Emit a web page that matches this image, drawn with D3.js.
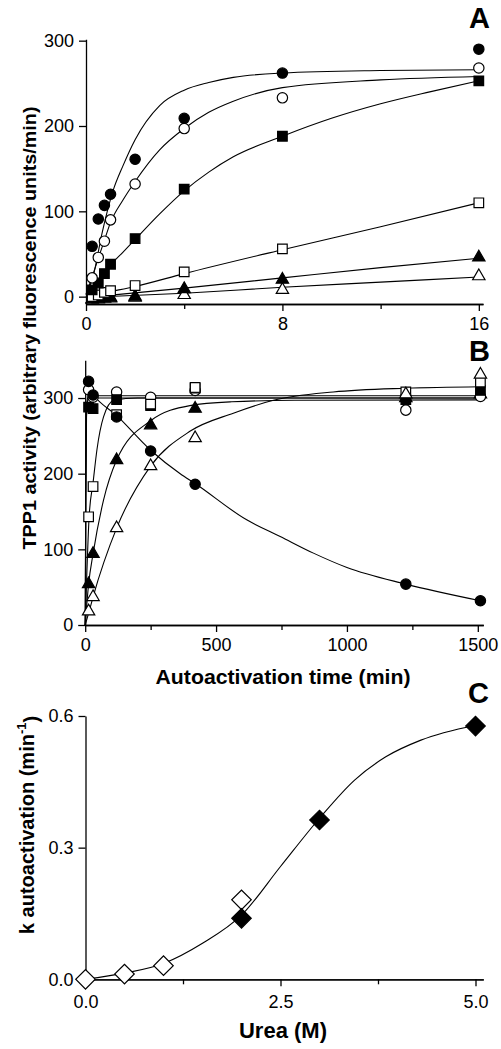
<!DOCTYPE html>
<html>
<head>
<meta charset="utf-8">
<script src="https://cdn.jsdelivr.net/npm/d3@7"></script>
<style>
  body { margin: 0; background: #fff; }
</style>
</head>
<body>
<div class="chart"></div>
<script>
// ---- panel A: activity vs time (min) ----
var aTime = [0.25, 0.5, 0.75, 1, 2, 4, 8, 16];
var aFilledCircle = [59, 91, 107, 120, 161, 209, 262, 290];
var aOpenCircle = [22, 46, 65, 90, 132, 197, 233, 268];
var aFilledSquare = [8, 16, 27, 38, 68, 126, 188, 253];
var aOpenSquare = [0, 2, 5, 7, 13, 29, 56, 110];
var aFilledTriangle = [-3, -2, -2, -1, 0, 9, 20, 46];
var aOpenTriangle = [-3, -3, -2, -2, -1, 2, 8, 24];

// fitted curves
var aFitFilledCircleX = [0, 0.3, 0.65, 1.1, 1.5, 2, 3, 4, 5, 6, 8, 12, 16];
var aFitFilledCircleY = [2, 25, 74, 124, 153, 184, 224, 242, 251, 257, 262, 265, 266];
var aFitOpenCircleX = [0, 0.25, 0.5, 0.75, 1, 1.5, 2, 3, 4, 5, 6, 8, 12, 16];
var aFitOpenCircleY = [3, 23, 45, 66, 87, 113, 135, 172, 197, 216, 229, 245, 254, 258];
var aFitFilledSquareX = [0, 0.25, 0.5, 0.75, 1, 1.5, 2, 3, 4, 5, 6, 8, 10, 12, 14, 16];
var aFitFilledSquareY = [0, 7, 16, 27, 37, 52, 67, 97, 124, 146, 164, 188, 209, 226, 240, 253];
var aFitOpenSquareX = [0, 1, 2, 4, 8, 12, 16];
var aFitOpenSquareY = [0, 6, 12, 27, 55, 82, 110];
var aFitFilledTriangleX = [0, 4, 8, 12, 16];
var aFitFilledTriangleY = [-1, 10, 22, 34, 45];
var aFitOpenTriangleX = [0, 4, 8, 12, 16];
var aFitOpenTriangleY = [-1, 4, 11, 17, 23];

// ---- panel B: autoactivation time course ----
var bTime = [13, 30, 120, 250, 420, 1225, 1510];
var bFilledCircle = [322, 304, 275, 230, 186, 54, 32];
var bOpenCircle = [311, 301, 308, 301, 310, 284, 302];
var bFilledSquare = [288, 286, 298, 290, 313, 298, 310];
var bOpenSquare = [143, 183, 278, 292, 314, 308, 321];
var bFilledTriangle = [54, 94, 218, 264, 286, 300, 305];
var bOpenTriangle = [18, 37, 128, 210, 247, 305, 331];

var bFitFilledCircleX = [0, 15, 30, 120, 250, 363, 420, 617, 745, 872, 1000, 1225, 1510];
var bFitFilledCircleY = [318, 313, 305, 277, 231, 200, 187, 139, 117, 95, 76, 54, 32];
var bFitOpenCircleX = [0, 2, 5, 10, 20, 1510];
var bFitOpenCircleY = [0, 170, 285, 301, 303, 303];
var bFitFilledSquareX = [0, 2, 5, 10, 20, 1510];
var bFitFilledSquareY = [0, 150, 275, 297, 300, 300];
var bFitOpenSquareX = [0, 15, 30, 45, 70, 110, 200, 1510];
var bFitOpenSquareY = [0, 143, 188, 232, 275, 297, 300, 300];
var bFitFilledTriangleX = [0, 13, 30, 70, 120, 250, 400, 560, 800, 1510];
var bFitFilledTriangleY = [0, 54, 94, 165, 218, 270, 290, 295, 297, 297.5];
var bFitOpenTriangleX = [0, 15, 30, 120, 250, 400, 566, 719, 948, 1225, 1510];
var bFitOpenTriangleY = [0, 18, 37, 128, 210, 256, 280, 297, 308, 313, 315];

// ---- panel C: k vs urea ----
var cUreaOpen = [0, 0.5, 1, 2];
var cKOpen = [0, 0.012, 0.031, 0.181];
var cUreaFilled = [2, 3, 5];
var cKFilled = [0.139, 0.363, 0.577];
var cFitX = [0, 0.5, 1, 1.5, 2, 2.5, 3, 3.45, 3.85, 4.3, 5];
var cFitY = [0, 0.014, 0.036, 0.082, 0.146, 0.257, 0.367, 0.454, 0.507, 0.545, 0.579];

var font = '"Liberation Sans", Arial, Helvetica, sans-serif';

var svg = d3.select('.chart')
  .append('svg')
    .attr('width', 501)
    .attr('height', 1049)
    .style('background', '#fff');

var symbols = { circle: d3.symbolCircle, square: d3.symbolSquare, triangle: d3.symbolTriangle, diamond: d3.symbolSquare };
var sizes = { circle: 84, square: 92, triangle: 66, diamond: 190 };

function axes (x, y, xMajor, xMinor, yTicks, fmtX, fmtY, xPad) {
  var base = y.range()[0];
  var left = x.range()[0];

  var gx = svg.append('g')
    .attr('transform', 'translate(0,' + base + ')')
    .call(d3.axisBottom(x).tickValues(xMajor).tickFormat(fmtX)
      .tickSize(7).tickSizeOuter(0).tickPadding(xPad));
  var gm = svg.append('g')
    .attr('transform', 'translate(0,' + base + ')')
    .call(d3.axisBottom(x).tickValues(xMinor).tickFormat('')
      .tickSize(5).tickSizeOuter(0));
  var gy = svg.append('g')
    .attr('transform', 'translate(' + left + ',0)')
    .call(d3.axisLeft(y).tickValues(yTicks).tickFormat(fmtY)
      .tickSize(7).tickSizeOuter(0).tickPadding(5));

  [gx, gm, gy].forEach(function (g) {
    g.attr('font-size', 18).attr('font-family', font);
    g.selectAll('path, line').attr('stroke', '#000').attr('stroke-width', 1.3);
    g.selectAll('text').attr('fill', '#000');
  });
}

function curve (x, y, xs, ys) {
  var line = d3.line()
    .x(d => x(d[0]))
    .y(d => y(d[1]))
    .curve(d3.curveMonotoneX);
  svg.append('path')
    .datum(d3.zip(xs, ys))
    .attr('d', line)
    .attr('fill', 'none')
    .attr('stroke', '#000')
    .attr('stroke-width', 1.1);
}

function marks (x, y, xs, ys, shape, filled) {
  var sym = d3.symbol().type(symbols[shape]).size(sizes[shape]);
  svg.append('g')
    .selectAll('path')
    .data(d3.zip(xs, ys))
    .enter()
    .append('path')
      .attr('d', sym)
      .attr('transform', d => 'translate(' + x(d[0]) + ',' + y(d[1]) + ')' + (shape === 'diamond' ? ' rotate(45)' : ''))
      .attr('fill', filled ? '#000' : '#fff')
      .attr('stroke', '#000')
      .attr('stroke-width', 1.2);
}

function letter (txt, x, y) {
  svg.append('text')
    .attr('x', x).attr('y', y)
    .attr('text-anchor', 'end')
    .attr('font-family', font)
    .attr('font-weight', 'bold')
    .attr('font-size', 29)
    .text(txt);
}

// ---------- A ----------
var xA = d3.scaleLinear().domain([0, 16.17]).range([86, 483]);
var yA = d3.scaleLinear().domain([-8.6, 301.6]).range([304, 39.3]);
axes(xA, yA, [0, 8, 16], [4, 12], [0, 100, 200, 300], d3.format('d'), d3.format('d'), 6.5);

curve(xA, yA, aFitOpenTriangleX, aFitOpenTriangleY);
curve(xA, yA, aFitFilledTriangleX, aFitFilledTriangleY);
curve(xA, yA, aFitOpenSquareX, aFitOpenSquareY);
curve(xA, yA, aFitFilledSquareX, aFitFilledSquareY);
curve(xA, yA, aFitOpenCircleX, aFitOpenCircleY);
curve(xA, yA, aFitFilledCircleX, aFitFilledCircleY);

marks(xA, yA, aTime, aOpenTriangle, 'triangle', false);
marks(xA, yA, aTime, aFilledTriangle, 'triangle', true);
marks(xA, yA, aTime, aOpenSquare, 'square', false);
marks(xA, yA, aTime, aFilledSquare, 'square', true);
marks(xA, yA, aTime, aOpenCircle, 'circle', false);
marks(xA, yA, aTime, aFilledCircle, 'circle', true);
letter('A', 490, 28);

// ---------- B ----------
var xB = d3.scaleLinear().domain([0, 1521]).range([85.2, 483.3]);
var yB = d3.scaleLinear().domain([0, 350]).range([625, 360.2]);
axes(xB, yB, [0, 500, 1000, 1500], [250, 750, 1250], [0, 100, 200, 300], d3.format('d'), d3.format('d'), 6.5);

curve(xB, yB, bFitFilledCircleX, bFitFilledCircleY);
curve(xB, yB, bFitOpenCircleX, bFitOpenCircleY);
curve(xB, yB, bFitFilledSquareX, bFitFilledSquareY);
curve(xB, yB, bFitOpenSquareX, bFitOpenSquareY);
curve(xB, yB, bFitFilledTriangleX, bFitFilledTriangleY);
curve(xB, yB, bFitOpenTriangleX, bFitOpenTriangleY);

marks(xB, yB, bTime, bFilledTriangle, 'triangle', true);
marks(xB, yB, bTime, bOpenCircle, 'circle', false);
marks(xB, yB, bTime, bFilledSquare, 'square', true);
marks(xB, yB, bTime, bOpenSquare, 'square', false);
marks(xB, yB, bTime, bOpenTriangle, 'triangle', false);
marks(xB, yB, bTime, bFilledCircle, 'circle', true);
letter('B', 490, 361);

svg.append('text')
  .attr('x', 283).attr('y', 684)
  .attr('text-anchor', 'middle')
  .attr('font-family', font).attr('font-weight', 'bold').attr('font-size', 21)
  .attr('textLength', 255).attr('lengthAdjust', 'spacingAndGlyphs')
  .text('Autoactivation time (min)');

svg.append('text')
  .attr('transform', 'translate(36,328) rotate(-90)')
  .attr('text-anchor', 'middle')
  .attr('font-family', font).attr('font-weight', 'bold').attr('font-size', 19)
  .attr('textLength', 443).attr('lengthAdjust', 'spacingAndGlyphs')
  .text('TPP1 activity (arbitrary fluorescence units/min)');

// ---------- C ----------
var xC = d3.scaleLinear().domain([0, 5.1]).range([85.5, 483.3]);
var yC = d3.scaleLinear().domain([0, 0.6]).range([979.3, 716]);
axes(xC, yC, [0, 2.5, 5], [1.25, 3.75], [0, 0.3, 0.6], d3.format('.1f'), d3.format('.1f'), 9);

curve(xC, yC, cFitX, cFitY);
marks(xC, yC, cUreaOpen, cKOpen, 'diamond', false);
marks(xC, yC, cUreaFilled, cKFilled, 'diamond', true);
letter('C', 489, 703);

svg.append('text')
  .attr('x', 283).attr('y', 1038)
  .attr('text-anchor', 'middle')
  .attr('font-family', font).attr('font-weight', 'bold').attr('font-size', 22)
  .text('Urea (M)');

var kt = svg.append('text')
  .attr('transform', 'translate(34,825) rotate(-90)')
  .attr('text-anchor', 'middle')
  .attr('font-family', font).attr('font-weight', 'bold').attr('font-size', 20);
kt.append('tspan').text('k autoactivation (min');
kt.append('tspan').attr('font-size', 13).attr('dy', '-0.6em').text('-1');
kt.append('tspan').attr('dy', '0.6em').text(')');
</script>
</body>
</html>
